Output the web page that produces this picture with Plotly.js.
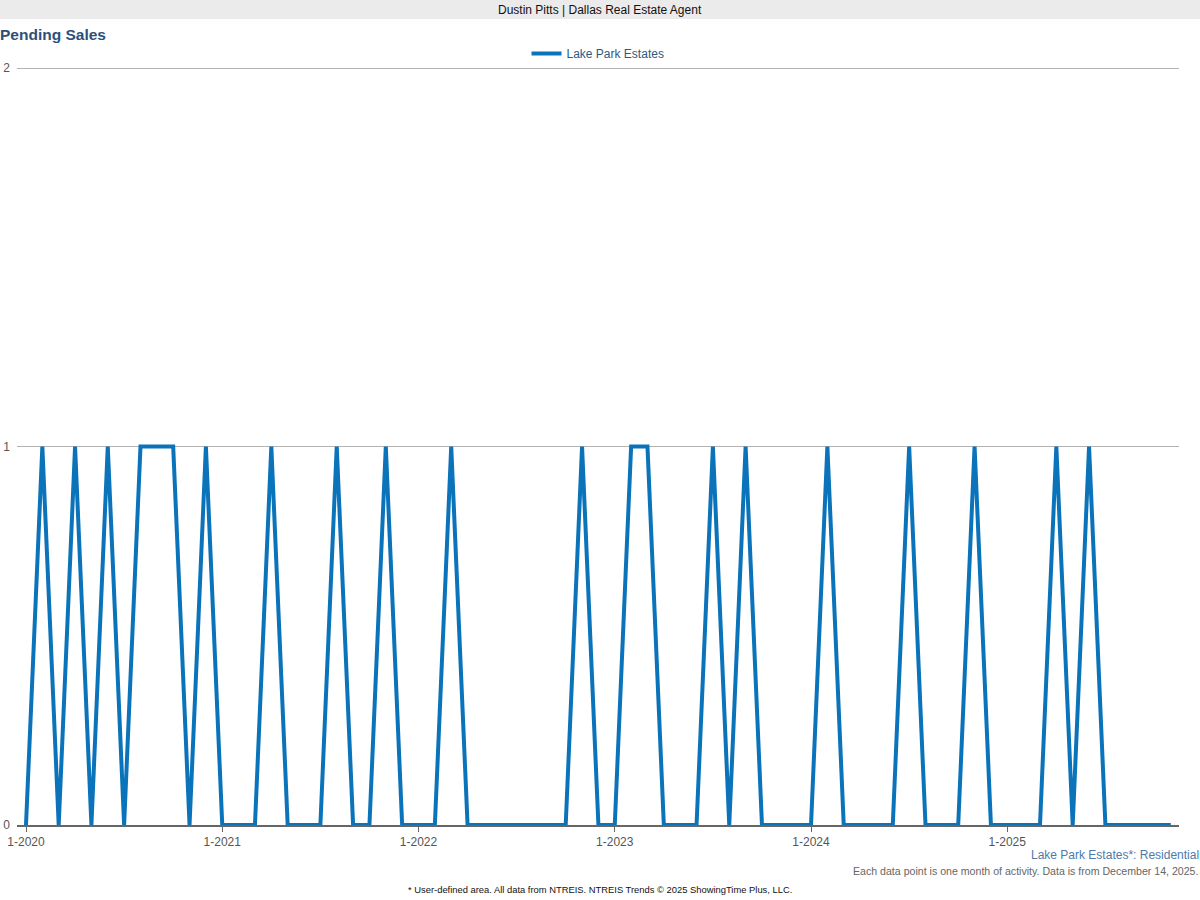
<!DOCTYPE html>
<html>
<head>
<meta charset="utf-8">
<script src="https://cdn.plot.ly/plotly-3.0.1.min.js"></script>
<style>html,body{margin:0;padding:0;background:#fff;}#chart{width:1200px;height:900px;}</style>
</head>
<body>
<div id="chart"></div>
<script>
// Months Jan 2020 .. Nov 2025
const months = [];
for (let y = 2020; y <= 2025; y++) {
  for (let m = 1; m <= 12; m++) {
    if (y === 2025 && m > 11) break;
    months.push(m + '-' + y);
  }
}
const pendingSales = [
  0,1,0,1,0,1,0,1,1,1,0,1,   // 2020
  0,0,0,1,0,0,0,1,0,0,1,0,   // 2021
  0,0,1,0,0,0,0,0,0,0,1,0,   // 2022
  0,1,1,0,0,0,1,0,1,0,0,0,   // 2023
  0,1,0,0,0,0,1,0,0,0,1,0,   // 2024
  0,0,0,1,0,1,0,0,0,0,0      // 2025
];
const tickLabels = ['1-2020','1-2021','1-2022','1-2023','1-2024','1-2025'];
const yTicks = [0, 1, 2];
const tickIdx = tickLabels.map(t => months.indexOf(t));
const xIdx = months.map((_, i) => i);

const font = 'Liberation Sans, Arial, sans-serif';
const trace = {
  x: xIdx, y: pendingSales, type: 'scatter', mode: 'lines',
  name: 'Lake Park Estates',
  line: {color: '#0b73ba', width: 4},
  text: months, hoverinfo: 'text+y'
};
const plotH = 900 - 67 - 75, plotW = 1200 - 17 - 21;
const py = p => (900 - 75 - p) / plotH;   // pixel y -> paper y
const px = p => (p - 17) / plotW;         // pixel x -> paper x
const layout = {
  width: 1200, height: 900,
  margin: {l: 17, r: 21, t: 67, b: 75},
  paper_bgcolor: '#fff', plot_bgcolor: '#fff',
  font: {family: font, color: '#555', size: 12},
  showlegend: true,
  legend: {orientation: 'h', x: 0.5, xanchor: 'center', xref: 'paper', y: py(68), yanchor: 'bottom',
           bgcolor: 'rgba(0,0,0,0)',
           font: {family: font, size: 12, color: '#2b5a86'}},
  xaxis: {
    range: [-0.55, 70.5], tickvals: tickIdx, ticktext: tickLabels,
    showgrid: false, zeroline: false, showline: true, linecolor: '#666', linewidth: 2,
    ticks: 'outside', ticklen: 5, tickcolor: '#666', tickwidth: 1,
    tickfont: {family: font, size: 12, color: '#555'}, fixedrange: true
  },
  yaxis: {
    range: [0, 2.003], tickvals: yTicks, showgrid: true, gridcolor: '#b3b3b3', gridwidth: 1,
    zeroline: false, showline: false, ticks: '', ticklabelstandoff: 6,
    tickfont: {family: font, size: 12, color: '#555'}, fixedrange: true
  },
  shapes: [
    {type: 'rect', xref: 'paper', yref: 'paper', x0: px(0), x1: px(1200), y0: py(19), y1: py(0),
     fillcolor: '#ebebeb', line: {width: 0}, layer: 'below'}
  ],
  annotations: [
    {xref: 'paper', yref: 'paper', x: px(600), y: py(10), xanchor: 'center', yanchor: 'middle', showarrow: false,
     text: 'Dustin Pitts | Dallas Real Estate Agent', font: {family: font, size: 12, color: '#111'}},
    {xref: 'paper', yref: 'paper', x: px(-2), y: py(34), xanchor: 'left', yanchor: 'middle', showarrow: false,
     text: '<b>Pending Sales</b>', font: {family: font, size: 15.5, color: '#2c5079'}},
    {xref: 'paper', yref: 'paper', x: px(1201), y: py(855), xanchor: 'right', yanchor: 'middle', showarrow: false,
     text: 'Lake Park Estates*: Residential', font: {family: font, size: 12, color: '#4c7bab'}},
    {xref: 'paper', yref: 'paper', x: px(1200), y: py(871), xanchor: 'right', yanchor: 'middle', showarrow: false,
     text: 'Each data point is one month of activity. Data is from December 14, 2025.', font: {family: font, size: 10.6, color: '#666'}},
    {xref: 'paper', yref: 'paper', x: px(600), y: py(889), xanchor: 'center', yanchor: 'middle', showarrow: false,
     text: '* User-defined area. All data from NTREIS. NTREIS Trends © 2025 ShowingTime Plus, LLC.', font: {family: font, size: 9.4, color: '#111'}}
  ]
};
Plotly.newPlot('chart', [trace], layout, {displayModeBar: false, staticPlot: true});
</script>
</body>
</html>
